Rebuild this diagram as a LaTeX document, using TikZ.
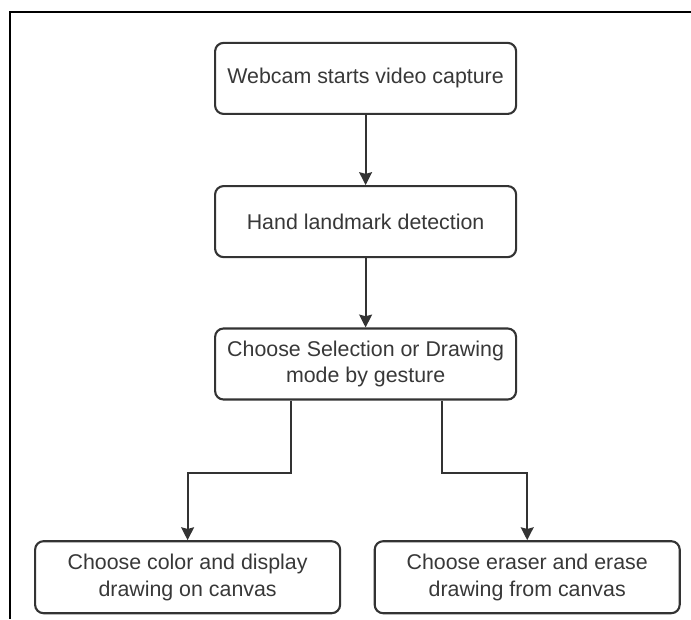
\documentclass[tikz,border=0pt]{standalone}
\usepackage{fontspec}
\setmainfont{Liberation Sans}
\usetikzlibrary{arrows.meta, positioning}
\definecolor{cline}{HTML}{333333}
\definecolor{ctext}{HTML}{383838}
\tikzset{
  every picture/.style={line width=1.5pt},
  box/.style={draw=cline, fill=white, rounded corners=6pt, align=center, inner sep=4pt,
    minimum width=7.525cm, minimum height=1.775cm, text=ctext, font=\fontsize{15.2}{19}\selectfont},
  wide/.style={box, minimum width=7.625cm, minimum height=1.8cm},
  arrow/.style={-{Stealth[length=3.2mm, width=3.2mm, inset=0.4mm]}, draw=cline, line width=1.5pt},
}

\begin{document}
\begin{tikzpicture}
  \useasboundingbox (0,0) rectangle (17.275,-15.475);
  % frame of the page
  \draw[line width=0.9pt] (17.275,-0.3) -- (0.25,-0.3) -- (0.25,-15.475);
  \node[box] (cam) at (9.14,-1.96) {Webcam starts video capture};
  \node[box] (hand) at (9.14,-5.54) {Hand landmark detection};
  \node[box] (mode) at (9.14,-9.1) {Choose Selection or Drawing\\mode by gesture};
  \node[wide] (color) at (4.69,-14.43) {Choose color and display\\drawing on canvas};
  \node[wide] (eraser) at (13.18,-14.43) {Choose eraser and erase\\drawing from canvas};
  \draw[arrow] (cam) -- (hand);
  \draw[arrow] (hand) -- (mode);
  \draw[arrow] ([xshift=-1.86cm]mode.south) -- ++(0,-1.82) -| (color);
  \draw[arrow] ([xshift=1.91cm]mode.south) -- ++(0,-1.82) -| (eraser);
\end{tikzpicture}
\end{document}
